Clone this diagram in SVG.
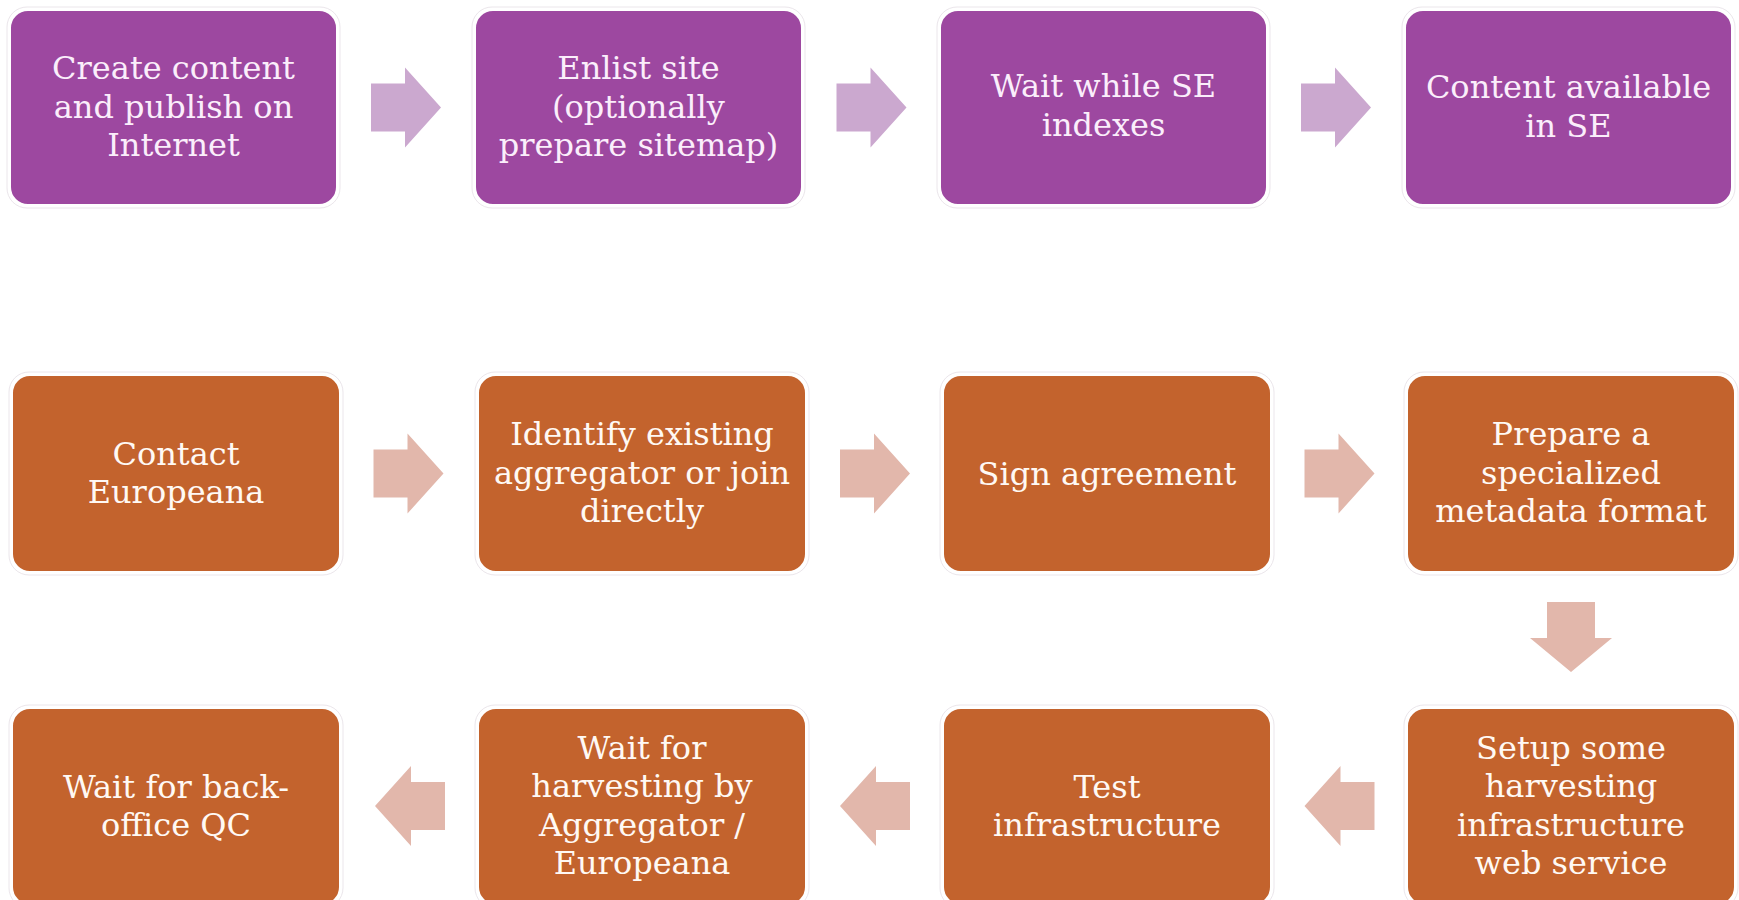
<svg xmlns="http://www.w3.org/2000/svg" xmlns:xlink="http://www.w3.org/1999/xlink" width="1739" height="900" viewBox="0 0 1739 900">
  <style>
    .box { stroke: #ffffff; stroke-width: 2; }
    .halo { fill: none; stroke: #ebe6eb; stroke-width: 1; }
    .purple { fill: #9d48a0; }
    .orange { fill: #c3632d; }
    .lbl { font-family: "DejaVu Serif", "Liberation Serif", serif; font-size: 32px; text-anchor: middle; }
    .lp { fill: #fbeefb; }
    .lo { fill: #fff9f4; }
    .ap { fill: #cba8cf; }
    .ao { fill: #e2b7ab; }
  </style>
  <defs>
    <path id="arr" d="M -35 -24 H -1 V -40 L 35 0 L -1 40 V 24 H -35 Z"/>
  </defs>
  <rect width="1739" height="900" fill="#ffffff"/>

  <g id="connectors">
    <use xlink:href="#arr" class="ap" transform="translate(406 107.5)"/>
    <use xlink:href="#arr" class="ap" transform="translate(871.5 107.5)"/>
    <use xlink:href="#arr" class="ap" transform="translate(1336 107.5)"/>
    <use xlink:href="#arr" class="ao" transform="translate(408.5 473.5)"/>
    <use xlink:href="#arr" class="ao" transform="translate(875 473.5)"/>
    <use xlink:href="#arr" class="ao" transform="translate(1339.5 473.5)"/>
    <path class="ao" d="M 1547 602 H 1595 V 638 H 1612 L 1571 672 L 1530 638 H 1547 Z"/>
    <use xlink:href="#arr" class="ao" transform="translate(1339.5 806) rotate(180)"/>
    <use xlink:href="#arr" class="ao" transform="translate(875 806) rotate(180)"/>
    <use xlink:href="#arr" class="ao" transform="translate(410 806) rotate(180)"/>
  </g>

  <g id="n1">
    <rect class="halo" x="7" y="7" width="333" height="201" rx="20"/>
    <rect class="box purple" x="10" y="10" width="327" height="195" rx="18"/>
    <text class="lbl lp"><tspan x="173.5" y="79">Create content</tspan><tspan x="173.5" y="118">and publish on</tspan><tspan x="173.5" y="156">Internet</tspan></text>
  </g>
  <g id="n2">
    <rect class="halo" x="472" y="7" width="333" height="201" rx="20"/>
    <rect class="box purple" x="475" y="10" width="327" height="195" rx="18"/>
    <text class="lbl lp"><tspan x="638.5" y="79">Enlist site</tspan><tspan x="638.5" y="118">(optionally</tspan><tspan x="638.5" y="156">prepare sitemap)</tspan></text>
  </g>
  <g id="n3">
    <rect class="halo" x="937" y="7" width="333" height="201" rx="20"/>
    <rect class="box purple" x="940" y="10" width="327" height="195" rx="18"/>
    <text class="lbl lp"><tspan x="1103.5" y="97">Wait while SE</tspan><tspan x="1103.5" y="136">indexes</tspan></text>
  </g>
  <g id="n4">
    <rect class="halo" x="1402" y="7" width="333" height="201" rx="20"/>
    <rect class="box purple" x="1405" y="10" width="327" height="195" rx="18"/>
    <text class="lbl lp"><tspan x="1568.5" y="98">Content available</tspan><tspan x="1568.5" y="137">in SE</tspan></text>
  </g>

  <g id="n5">
    <rect class="halo" x="9" y="372" width="334" height="203" rx="20"/>
    <rect class="box orange" x="12" y="375" width="328" height="197" rx="18"/>
    <text class="lbl lo"><tspan x="176" y="465">Contact</tspan><tspan x="176" y="503">Europeana</tspan></text>
  </g>
  <g id="n6">
    <rect class="halo" x="475" y="372" width="334" height="203" rx="20"/>
    <rect class="box orange" x="478" y="375" width="328" height="197" rx="18"/>
    <text class="lbl lo"><tspan x="642" y="445">Identify existing</tspan><tspan x="642" y="483.5">aggregator or join</tspan><tspan x="642" y="522">directly</tspan></text>
  </g>
  <g id="n7">
    <rect class="halo" x="940" y="372" width="334" height="203" rx="20"/>
    <rect class="box orange" x="943" y="375" width="328" height="197" rx="18"/>
    <text class="lbl lo"><tspan x="1107" y="485">Sign agreement</tspan></text>
  </g>
  <g id="n8">
    <rect class="halo" x="1404" y="372" width="334" height="203" rx="20"/>
    <rect class="box orange" x="1407" y="375" width="328" height="197" rx="18"/>
    <text class="lbl lo"><tspan x="1571" y="445">Prepare a</tspan><tspan x="1571" y="483.5">specialized</tspan><tspan x="1571" y="522">metadata format</tspan></text>
  </g>

  <g id="n9">
    <rect class="halo" x="1404" y="705" width="334" height="203" rx="20"/>
    <rect class="box orange" x="1407" y="708" width="328" height="197" rx="18"/>
    <text class="lbl lo"><tspan x="1571" y="759">Setup some</tspan><tspan x="1571" y="797">harvesting</tspan><tspan x="1571" y="836">infrastructure</tspan><tspan x="1571" y="874">web service</tspan></text>
  </g>
  <g id="n10">
    <rect class="halo" x="940" y="705" width="334" height="203" rx="20"/>
    <rect class="box orange" x="943" y="708" width="328" height="197" rx="18"/>
    <text class="lbl lo"><tspan x="1107" y="797.5">Test</tspan><tspan x="1107" y="836">infrastructure</tspan></text>
  </g>
  <g id="n11">
    <rect class="halo" x="475" y="705" width="334" height="203" rx="20"/>
    <rect class="box orange" x="478" y="708" width="328" height="197" rx="18"/>
    <text class="lbl lo"><tspan x="642" y="759">Wait for</tspan><tspan x="642" y="797">harvesting by</tspan><tspan x="642" y="836">Aggregator /</tspan><tspan x="642" y="874">Europeana</tspan></text>
  </g>
  <g id="n12">
    <rect class="halo" x="9" y="705" width="334" height="203" rx="20"/>
    <rect class="box orange" x="12" y="708" width="328" height="197" rx="18"/>
    <text class="lbl lo"><tspan x="176" y="797.5">Wait for back-</tspan><tspan x="176" y="836">office QC</tspan></text>
  </g>
</svg>
